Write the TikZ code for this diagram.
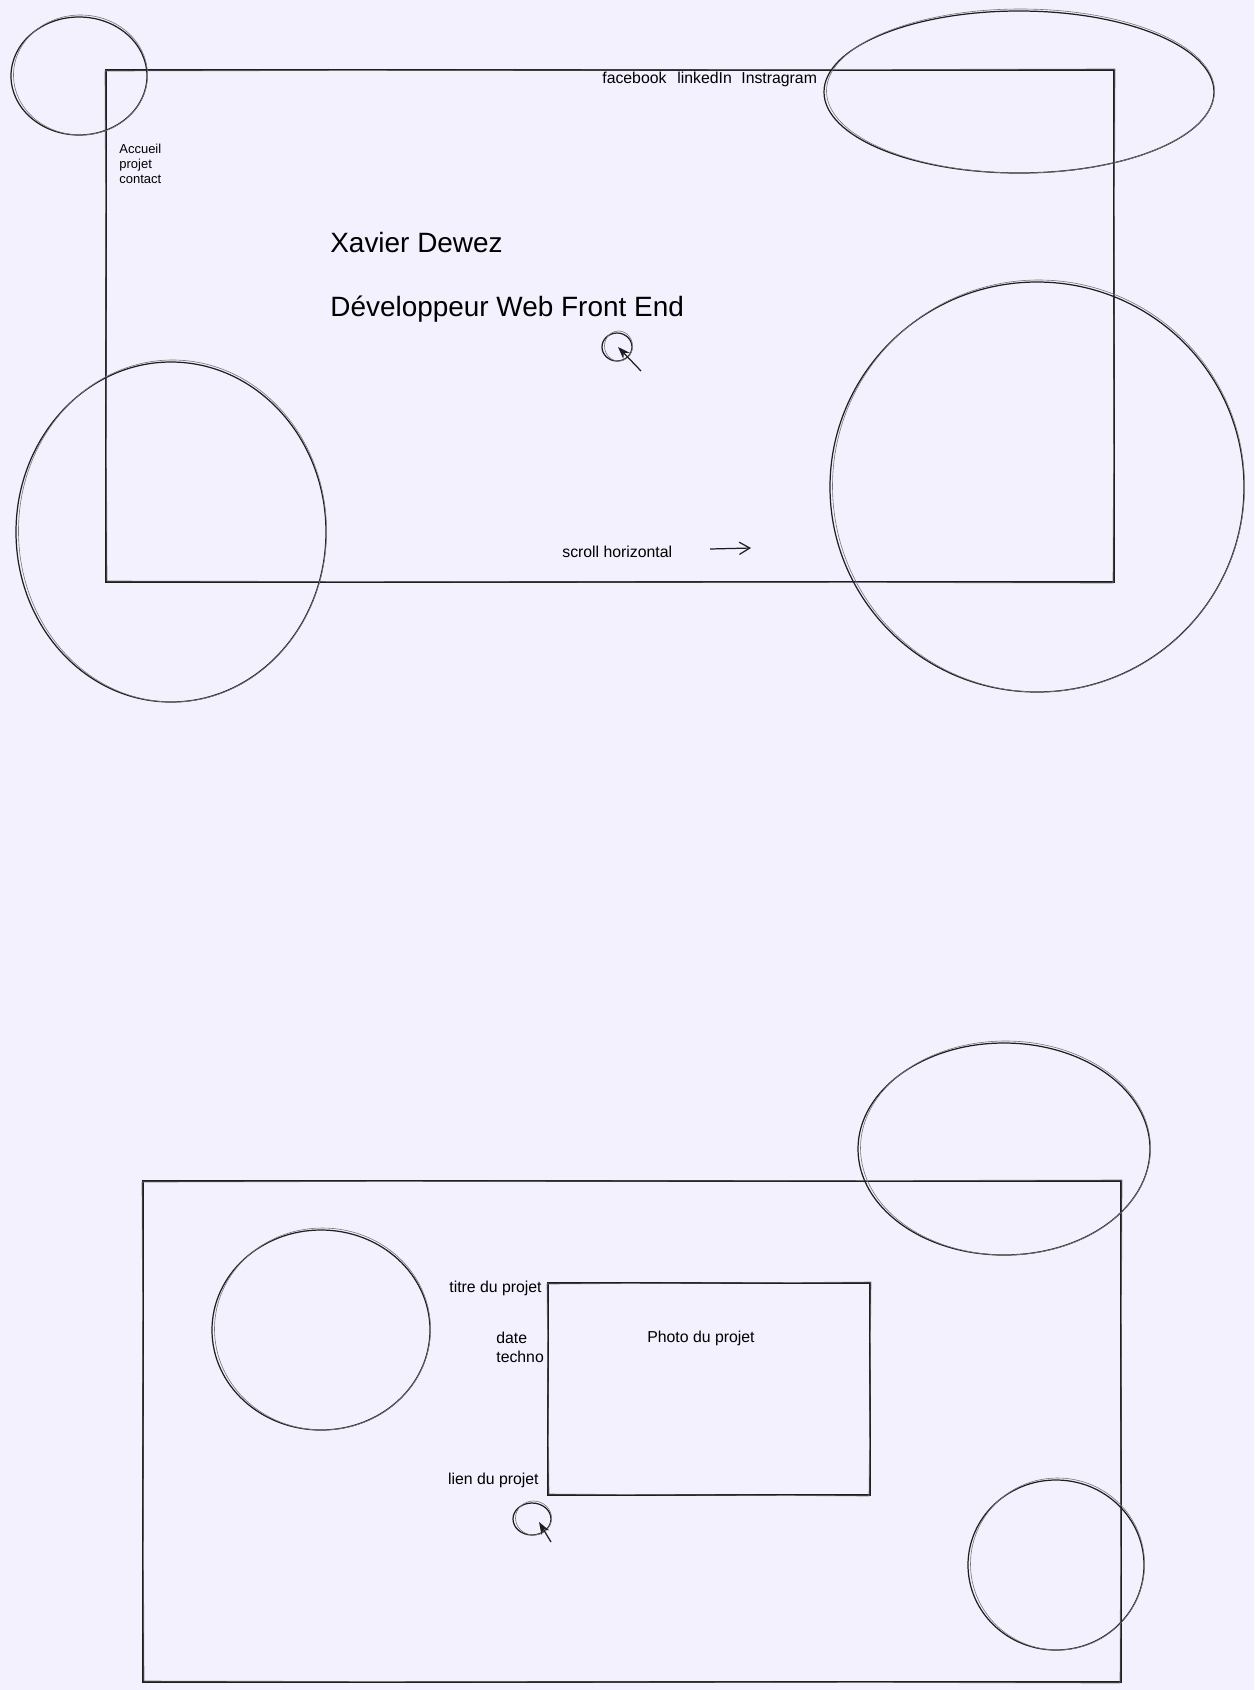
\documentclass[tikz,border=0pt]{standalone}
\usepackage{fontspec}
\setmainfont{Liberation Sans}
\usetikzlibrary{arrows.meta}
\definecolor{colorPaper}{HTML}{F3F1FE}
\definecolor{colorInk}{HTML}{1E1E1E}
\def\colorPaper{colorPaper}
\def\colorInk{colorInk}

% ovale trace a la main : deux passes legerement decalees
\newcommand{\roughoval}[4]{%
  \draw[sketch] (#1,#2) ellipse [x radius=#3, y radius=#4];
  \draw[sketchtwo] (#1+1.5,#2-1) ellipse [x radius=#3-1, y radius=#4+1];
}
% rectangle trace a la main
\newcommand{\roughbox}[4]{%
  \draw[sketch] (#1,#2) rectangle (#3,#4);
  \draw[sketchtwo] (#1-1,#2+1) -- (#1+1,#4-1) -- (#3-1,#4+1) -- (#3+1,#2-1) -- cycle;
}

\begin{document}
\begin{tikzpicture}[x=0.02cm, y=-0.02cm,
  sketch/.style={draw=\colorInk, line width=0.7pt},
  sketchtwo/.style={draw=\colorInk!60, line width=0.35pt},
  txt/.style={inner sep=0pt, anchor=base west, text=black, font=\fontsize{9pt}{10.5pt}\selectfont},
  smalltxt/.style={txt, font=\fontsize{7.4pt}{8.8pt}\selectfont},
  bigtxt/.style={txt, font=\fontsize{15.9pt}{18pt}\selectfont},
  pointer/.style={sketch, -{Stealth[length=7pt, width=5pt]}},
  scrollarrow/.style={sketch, -{Straight Barb[length=6pt, width=7pt]}}]

  \fill[\colorPaper] (0,0) rectangle (1254,1690);
  \useasboundingbox (0,0) rectangle (1254,1690);

  % Ecran d'accueil
  \roughbox{106}{70}{1114}{582}
  \roughoval{79}{76}{68}{59}
  \roughoval{1019}{92}{195}{81}
  \roughoval{171}{532}{155}{170}
  \roughoval{1037}{487}{207}{205}

  \node[smalltxt] (navhome) at (119,153) {Accueil};
  \node[smalltxt] (navproj) at (119,168) {projet};
  \node[smalltxt] (navcontact) at (119,183) {contact};

  \node[txt] (facebook) at (602,83) {facebook};
  \node[txt] (linkedin) at (677,83) {linkedIn};
  \node[txt] (instagram) at (741,83) {Instragram};

  \node[bigtxt] (name) at (330,252) {Xavier Dewez};
  \node[bigtxt] (job) at (330,316) {Développeur Web Front End};

  % curseur
  \roughoval{617}{347}{15}{14}
  \coordinate (clicktail) at (641,371);
  \coordinate (clicktip) at (618,347);
  \draw[pointer] (clicktail) -- (clicktip);

  \node[txt] (scroll) at (562,557) {scroll horizontal};
  \coordinate (scrollfrom) at (710,549);
  \coordinate (scrollto) at (751,548);
  \draw[scrollarrow] (scrollfrom) -- (scrollto);

  % Ecran projet
  \roughbox{143}{1181}{1121}{1682}
  \roughoval{1004}{1149}{146}{106}
  \roughoval{321}{1330}{109}{100}
  \roughoval{1056}{1565}{88}{85}

  \roughbox{548}{1283}{870}{1495}
  \node[txt] (photo) at (647,1342) {Photo du projet};
  \node[txt, anchor=base east] (title) at (542,1292) {titre du projet};
  \node[txt] (date) at (496,1343) {date};
  \node[txt] (techno) at (496,1362) {techno};
  \node[txt, anchor=base east] (link) at (539,1484) {lien du projet};

  % curseur
  \roughoval{532}{1519}{19}{16}
  \coordinate (linktail) at (551,1542);
  \coordinate (linktip) at (539,1522);
  \draw[pointer] (linktail) -- (linktip);

\end{tikzpicture}
\end{document}
